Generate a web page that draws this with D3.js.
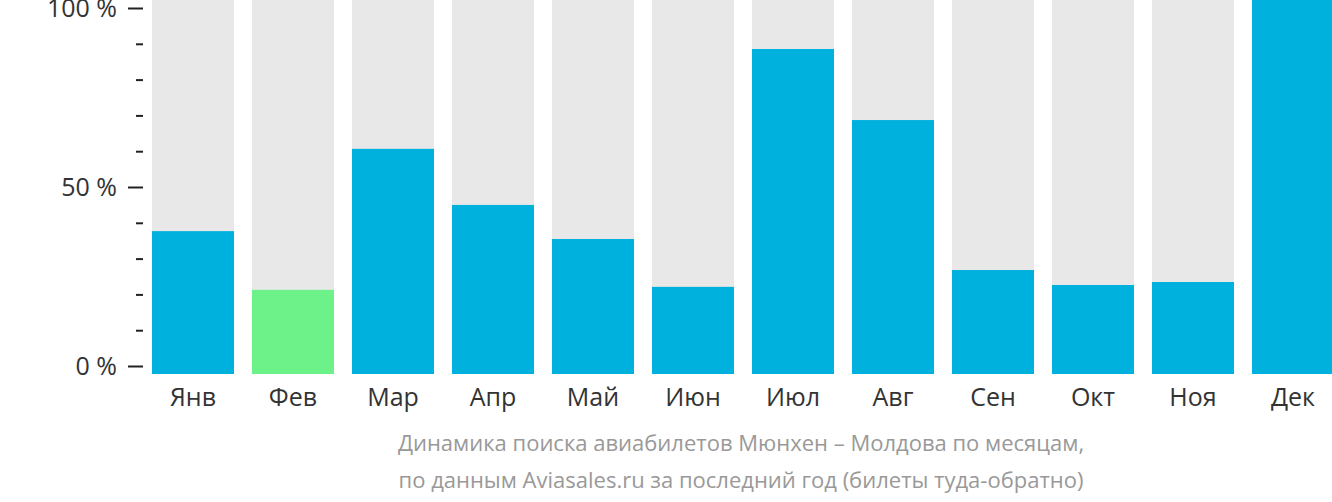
<!DOCTYPE html>
<html>
<head>
<meta charset="utf-8">
<script src="https://cdn.jsdelivr.net/npm/d3@7"></script>
<style>
  body { margin: 0; background: #fff; }
  svg { display: block; }
  svg text { font-family: "Open Sans", "Noto Sans", sans-serif; }
</style>
</head>
<body>
<div id="chart"></div>
<script>
const WIDTH = 1332;
const HEIGHT = 502;

const MONTHS = ["Янв", "Фев", "Мар", "Апр", "Май", "Июн", "Июл", "Авг", "Сен", "Окт", "Ноя", "Дек"];
// share of the peak month, %
const VALUES = [38.2, 22.5, 60.2, 45.2, 36.1, 23.3, 86.9, 67.9, 27.8, 23.8, 24.6, 100];
const CHEAPEST = "Фев";
const Y_TICKS = [0, 50, 100];
const CAPTION = [
  "Динамика поиска авиабилетов Мюнхен – Молдова по месяцам,",
  "по данным Aviasales.ru за последний год (билеты туда-обратно)",
];

const svg = d3.select("#chart").append("svg")
  .attr("width", WIDTH)
  .attr("height", HEIGHT);

const x = d3.scaleBand()
  .domain(MONTHS)
  .range([143, 1343])
  .paddingInner(0.18)
  .paddingOuter(0.09);

// bars fill the full plot height, the axis sits slightly inside it
const yBar = d3.scaleLinear().domain([0, 100]).range([374, 0]);
const yAxis = d3.scaleLinear().domain([0, 100]).range([366, 8]);

// grey background columns
svg.append("g")
  .selectAll("rect")
  .data(MONTHS)
  .join("rect")
  .attr("x", (d) => x(d))
  .attr("y", yBar(100))
  .attr("width", x.bandwidth())
  .attr("height", yBar(0) - yBar(100))
  .attr("fill", "#e8e8e8");

svg.append("g")
  .selectAll("rect")
  .data(MONTHS.map((m, i) => ({ m, v: VALUES[i] })))
  .join("rect")
  .attr("x", (d) => x(d.m))
  .attr("y", (d) => yBar(d.v))
  .attr("width", x.bandwidth())
  .attr("height", (d) => yBar(0) - yBar(d.v))
  .attr("fill", (d) => (d.m === CHEAPEST ? "#6cf288" : "#00b1dd"));

// y axis: major ticks with labels, minor ticks every 10 %
const axisG = svg.append("g").attr("transform", "translate(143,0)");
axisG.append("g")
  .call(d3.axisLeft(yAxis).tickValues(d3.range(0, 101, 10).filter((v) => !Y_TICKS.includes(v))).tickSize(7).tickFormat(""))
  .call((g) => g.select(".domain").remove())
  .call((g) => g.selectAll("line").attr("stroke", "#222").attr("stroke-width", 2));
axisG.append("g")
  .call(d3.axisLeft(yAxis).tickValues(Y_TICKS).tickSize(15).tickPadding(11).tickFormat((d) => d + " %"))
  .call((g) => g.attr("font-family", null).attr("font-size", null))
  .call((g) => g.select(".domain").remove())
  .call((g) => g.selectAll("line").attr("stroke", "#222").attr("stroke-width", 2))
  .call((g) => g.selectAll("text").attr("fill", "#333").style("font-size", "25px"));

// month labels
svg.append("g")
  .selectAll("text")
  .data(MONTHS)
  .join("text")
  .attr("x", (d) => x(d) + x.bandwidth() / 2)
  .attr("y", 406)
  .attr("text-anchor", "middle")
  .attr("fill", "#333")
  .style("font-size", "25px")
  .text((d) => d);

svg.append("g")
  .selectAll("text")
  .data(CAPTION)
  .join("text")
  .attr("x", 741)
  .attr("y", (d, i) => 451 + i * 37)
  .attr("text-anchor", "middle")
  .attr("fill", "#999")
  .style("font-size", "22px")
  .text((d) => d);
</script>
</body>
</html>
